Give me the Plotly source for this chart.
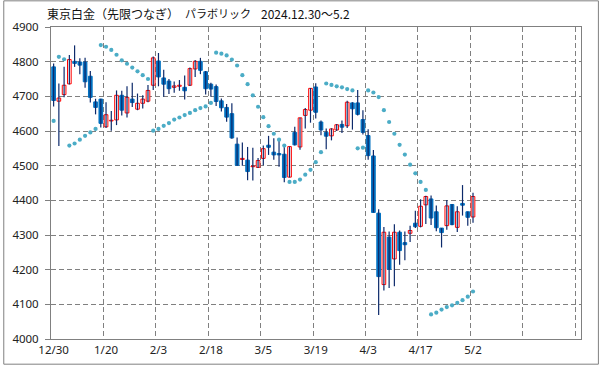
import plotly.graph_objects as go

# ---- data ----
dates = ["12/30", "1/6", "1/7", "1/8", "1/9", "1/10", "1/14", "1/15", "1/16", "1/17",
         "1/20", "1/21", "1/22", "1/23", "1/24", "1/27", "1/28", "1/29", "1/30", "1/31",
         "2/3", "2/4", "2/5", "2/6", "2/7", "2/10", "2/12", "2/13", "2/14", "2/17",
         "2/18", "2/19", "2/20", "2/21", "2/25", "2/26", "2/27", "2/28", "3/3", "3/4",
         "3/5", "3/6", "3/7", "3/10", "3/11", "3/12", "3/13", "3/14", "3/17", "3/18",
         "3/19", "3/21", "3/24", "3/25", "3/26", "3/27", "3/28", "3/31", "4/1", "4/2",
         "4/3", "4/4", "4/7", "4/8", "4/9", "4/10", "4/11", "4/14", "4/15", "4/16",
         "4/17", "4/18", "4/21", "4/22", "4/23", "4/24", "4/25", "4/28", "4/30", "5/1",
         "5/2"]

open_ = [4785, 4686, 4705, 4736, 4801, 4799, 4799, 4758, 4684, 4692,
         4612, 4629, 4632, 4703, 4652, 4692, 4663, 4680, 4686, 4732,
         4802, 4753, 4744, 4726, 4729, 4726, 4732, 4779, 4801, 4771,
         4735, 4728, 4687, 4668, 4650, 4562, 4518, 4516, 4497, 4495,
         4521, 4559, 4539, 4535, 4533, 4467, 4596, 4554, 4645, 4660,
         4727, 4626, 4596, 4586, 4603, 4619, 4615, 4681, 4681, 4633,
         4587, 4528, 4363, 4157, 4294, 4231, 4308, 4278, 4305, 4334,
         4325, 4387, 4404, 4367, 4320, 4327, 4388, 4322, 4391, 4367,
         4352]
high = [4795, 4737, 4785, 4819, 4847, 4810, 4811, 4773, 4693, 4693,
        4683, 4658, 4717, 4716, 4729, 4739, 4708, 4703, 4733, 4815,
        4825, 4777, 4750, 4743, 4747, 4760, 4783, 4805, 4811, 4773,
        4739, 4734, 4694, 4678, 4680, 4581, 4567, 4554, 4552, 4522,
        4558, 4586, 4579, 4579, 4558, 4555, 4612, 4638, 4666, 4724,
        4738, 4630, 4607, 4608, 4620, 4630, 4687, 4683, 4718, 4660,
        4605, 4545, 4374, 4323, 4310, 4331, 4313, 4310, 4327, 4370,
        4403, 4413, 4414, 4385, 4320, 4401, 4389, 4383, 4444, 4368,
        4422]
low = [4671, 4557, 4697, 4734, 4785, 4764, 4725, 4682, 4648, 4610,
       4609, 4601, 4617, 4645, 4639, 4669, 4660, 4665, 4683, 4718,
       4729, 4699, 4707, 4710, 4716, 4691, 4730, 4756, 4764, 4705,
       4699, 4672, 4656, 4627, 4578, 4500, 4500, 4458, 4457, 4493,
       4501, 4531, 4517, 4497, 4452, 4466, 4558, 4546, 4607, 4624,
       4636, 4588, 4547, 4573, 4600, 4594, 4609, 4604, 4645, 4590,
       4517, 4365, 4069, 4140, 4147, 4152, 4214, 4227, 4280, 4320,
       4322, 4332, 4329, 4311, 4264, 4315, 4328, 4309, 4356, 4327,
       4335]
close = [4688, 4695, 4732, 4806, 4795, 4790, 4742, 4697, 4668, 4622,
         4647, 4631, 4703, 4660, 4697, 4682, 4680, 4692, 4717, 4811,
         4756, 4735, 4722, 4730, 4732, 4716, 4780, 4801, 4775, 4722,
         4721, 4685, 4667, 4640, 4580, 4501, 4521, 4483, 4499, 4515,
         4549, 4553, 4531, 4531, 4466, 4555, 4560, 4638, 4662, 4723,
         4654, 4603, 4585, 4606, 4618, 4611, 4683, 4664, 4648, 4596,
         4529, 4365, 4180, 4308, 4201, 4308, 4255, 4272, 4313, 4324,
         4383, 4411, 4349, 4321, 4307, 4384, 4330, 4367, 4386, 4351,
         4411]
sar = [4629, 4814, 4807, 4558, 4564, 4575, 4586, 4596, 4606, 4848,
       4843, 4834, 4820, 4804, 4794, 4783, 4772, 4761, 4750, 4601,
       4606, 4615, 4623, 4633, 4639, 4646, 4652, 4660, 4666, 4671,
       4681, 4826, 4823, 4818, 4806, 4789, 4761, 4735, 4703, 4670,
       4640, 4614, 4592, 4575, 4558, 4453, 4453, 4460, 4474, 4488,
       4510, 4539, 4737, 4733, 4729, 4726, 4721, 4717, 4550, 4552,
       4717, 4711, 4698, 4660, 4626, 4592, 4560, 4532, 4503, 4478,
       4453, 4430, 4071, 4076, 4085, 4092, 4097, 4104, 4112, 4122,
       4137]

y_ticks = [4000, 4100, 4200, 4300, 4400, 4500, 4600, 4700, 4800, 4900]
title_parts = ["東京白金（先限つなぎ）", "パラボリック", "2024.12.30～5.2"]

# ---- build ----
W, H = 599, 369
L, R, T, B = 48, 18, 27, 26
PW, PH = W - L - R, H - T - B

idx = list(range(len(dates)))
UP_LINE = "#ff0000"
DOWN_FILL = "#0070c0"
WICK = "#0d2a6b"
SAR_COLOR = "#4bacc6"
GRID = "#808080"
DASH = "5px,3px"

wx, wy = [], []
for i in idx:
    wx += [i, i, None]
    wy += [low[i], high[i], None]

base = [min(o, c) for o, c in zip(open_, close)]
height = [max(abs(c - o), 1) for o, c in zip(open_, close)]
is_up = [c >= o for o, c in zip(open_, close)]
fill = ["#ffffff" if u else DOWN_FILL for u in is_up]
edge = [UP_LINE if u else DOWN_FILL for u in is_up]

fig = go.Figure()
fig.add_trace(go.Scatter(x=wx, y=wy, mode="lines",
                         line=dict(color=WICK, width=1.2),
                         hoverinfo="skip", showlegend=False))
fig.add_trace(go.Bar(x=idx, y=height, base=base, width=0.7,
                     marker=dict(color=fill, line=dict(color=edge, width=1)),
                     hoverinfo="skip", showlegend=False))
fig.add_trace(go.Scatter(x=idx, y=sar, mode="markers",
                         marker=dict(color=SAR_COLOR, size=4.2, symbol="circle"),
                         hoverinfo="skip", showlegend=False))

axis_font = dict(family="Noto Sans, sans-serif", size=11.5, color="#222222")

fig.update_layout(
    width=W, height=H,
    margin=dict(l=L, r=R, t=T, b=B, pad=0),
    paper_bgcolor="white", plot_bgcolor="white",
    showlegend=False, bargap=0,
    font=axis_font,
    xaxis=dict(
        range=[-0.5, 100.6],
        tickmode="array",
        tickvals=idx[::10],
        ticktext=dates[::10],
        showgrid=False, zeroline=False,
        showline=True, linecolor=GRID, linewidth=1, mirror=True,
        ticks="", tickfont=axis_font,
        minor=dict(tickmode="array",
                   tickvals=[9.5 + 10 * k for k in range(10)],
                   showgrid=True, gridcolor=GRID, griddash=DASH, gridwidth=1,
                   ticks=""),
    ),
    yaxis=dict(
        range=[4000, 4900],
        tickmode="array", tickvals=y_ticks,
        showgrid=True, gridcolor=GRID, griddash=DASH, gridwidth=1,
        zeroline=False,
        showline=True, linecolor=GRID, linewidth=1, mirror=True,
        ticks="outside", ticklen=5, tickcolor=GRID,
        ticklabelstandoff=4,
        tickfont=axis_font,
    ),
)

title_x = [43, 182, 258]
title_sz = [12, 11, 12]
for txt, px, sz in zip(title_parts, title_x, title_sz):
    fig.add_annotation(text=txt, xref="paper", yref="paper",
                       x=(px - L) / PW, y=(H - B - 13) / PH,
                       xanchor="left", yanchor="middle", showarrow=False,
                       borderpad=0,
                       font=dict(family="Noto Sans CJK JP", size=sz, color="#111111"))

# outer frame around the whole picture
fig.add_shape(type="rect", xref="paper", yref="paper",
              x0=(0.5 - L) / PW, x1=(W - 0.5 - L) / PW,
              y0=(H - B - (H - 0.5)) / PH, y1=(H - B - 0.5) / PH,
              line=dict(color="#808080", width=1), fillcolor="rgba(0,0,0,0)",
              layer="above")

fig.write_html("out.html",
               config={"displayModeBar": False, "staticPlot": True},
               post_script="document.body.style.margin='0';document.body.style.padding='0';")
